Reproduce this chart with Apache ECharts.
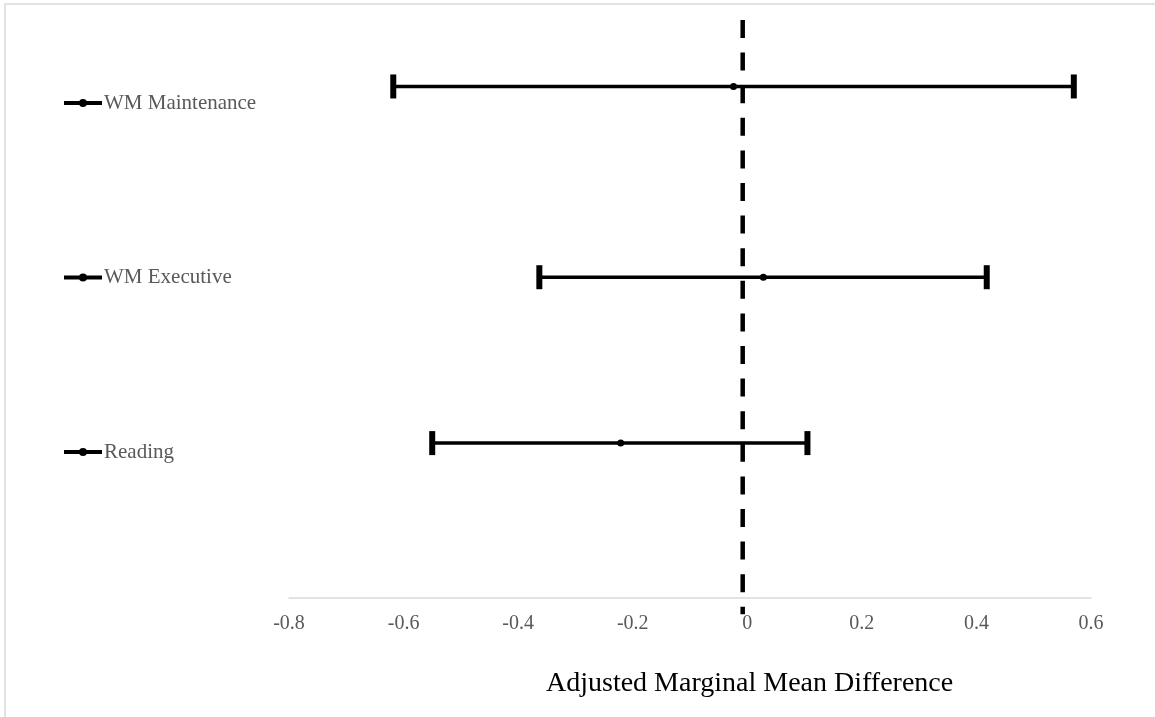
<!DOCTYPE html>
<html>
<head>
<meta charset="utf-8">
<script src="https://cdn.jsdelivr.net/npm/echarts@6/dist/echarts.min.js"></script>
<style>
  html, body { margin: 0; padding: 0; background: #fff; }
  #main { width: 1155px; height: 717px; }
</style>
</head>
<body>
<div id="main"></div>
<script>
// outcomes, top to bottom
const labels = ['WM Maintenance', 'WM Executive', 'Reading'];
// vertical position of each row on the hidden y axis (0..10)
const rowY = [8.85, 5.55, 2.68];
const estimates = [-0.024, 0.028, -0.221];
const lowerCI = [-0.618, -0.363, -0.550];
const upperCI = [0.570, 0.418, 0.105];
const xTicks = [-0.8, -0.6, -0.4, -0.2, 0, 0.2, 0.4, 0.6];
// dashed reference line
const refX = -0.008;
const refY = [10, -0.28];

const serif = '"Liberation Serif", "Times New Roman", serif';
const chartDom = document.getElementById('main');
const myChart = echarts.init(chartDom);

const capSymbol = { symbol: 'rect', symbolSize: [6, 24] };

const rowSeries = labels.map((name, i) => ({
  name: name,
  type: 'line',
  clip: false,
  symbol: 'circle',
  symbolSize: 7,
  lineStyle: { color: '#000', width: 3.5 },
  itemStyle: { color: '#000' },
  data: [
    Object.assign({ value: [lowerCI[i], rowY[i]] }, capSymbol),
    { value: [estimates[i], rowY[i]] },
    Object.assign({ value: [upperCI[i], rowY[i]] }, capSymbol)
  ]
}));

const option = {
  animation: false,
  backgroundColor: '#fff',
  textStyle: { fontFamily: serif },
  title: {
    text: 'Adjusted Marginal Mean Difference',
    left: 546,
    top: 670,
    padding: 0,
    textStyle: { fontFamily: serif, fontSize: 28, fontWeight: 'normal', color: '#000' }
  },
  legend: {
    data: labels,
    orient: 'vertical',
    left: 62,
    top: 92,
    padding: 0,
    itemWidth: 38,
    itemHeight: 10,
    itemGap: 152.5,
    lineStyle: { width: 4 },
    textStyle: { fontFamily: serif, fontSize: 21, color: '#595959', lineHeight: 22, padding: [0, 0, 0, -3] }
  },
  grid: { left: 289, right: 64, top: 20, bottom: 119, containLabel: false },
  xAxis: {
    type: 'value',
    min: xTicks[0],
    max: xTicks[xTicks.length - 1],
    interval: 0.2,
    axisLine: { onZero: false, lineStyle: { color: '#d9d9d9', width: 1.5 } },
    axisTick: { show: false },
    splitLine: { show: false },
    axisLabel: {
      margin: 16,
      fontFamily: serif,
      fontSize: 20,
      color: '#595959',
      formatter: v => String(Math.round(v * 10) / 10)
    }
  },
  yAxis: {
    type: 'value',
    min: 0,
    max: 10,
    show: false
  },
  graphic: [{
    type: 'rect',
    shape: { x: 5, y: 4, width: 1170, height: 730 },
    style: { fill: 'none', stroke: '#d9d9d9', lineWidth: 1.5 },
    silent: true
  }],
  series: rowSeries.concat([{
    name: 'ref',
    type: 'line',
    clip: false,
    symbol: 'none',
    lineStyle: { color: '#000', width: 4.5, type: [18, 14.6] },
    data: [[refX, refY[0]], [refX, refY[1]]]
  }])
};

myChart.setOption(option);
</script>
</body>
</html>
